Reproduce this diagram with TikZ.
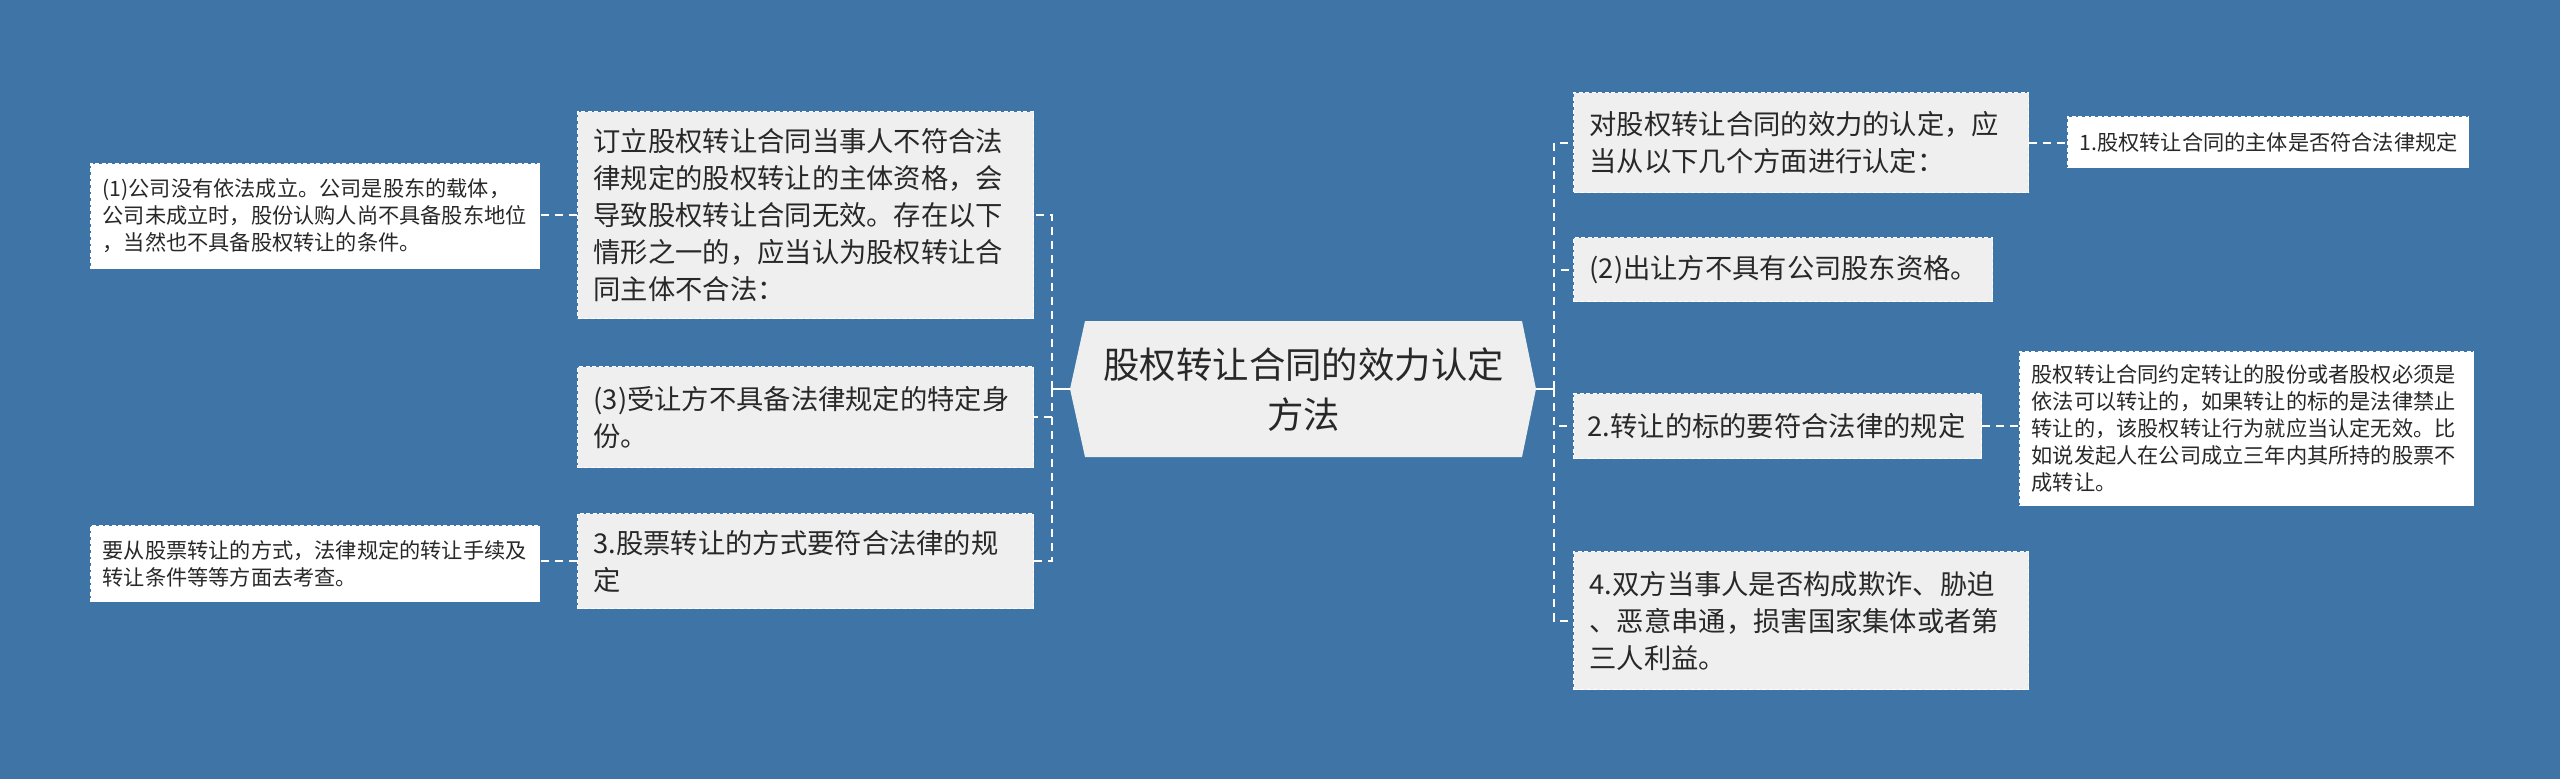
\documentclass[tikz,border=0pt]{standalone}
\usepackage{fontspec}
\setmainfont{Noto Sans CJK SC}
\usetikzlibrary{calc}
\definecolor{bg}{RGB}{62,116,166}
\definecolor{boxgray}{RGB}{239,239,239}
\definecolor{txt}{RGB}{40,40,40}
\tikzset{
  mainbox/.style={anchor=north west, fill=boxgray, draw=white, line width=1.3pt,
    dash pattern=on 4pt off 2.5pt, inner xsep=16pt, inner ysep=0pt, align=left,
    text=txt, font=\fontsize{27.3}{37}\selectfont},
  leafbox/.style={anchor=north west, fill=white, draw=white, line width=1.3pt,
    dash pattern=on 4pt off 2.5pt, inner xsep=12pt, inner ysep=0pt, align=left,
    text=txt, font=\fontsize{21.2}{27}\selectfont},
  dconn/.style={draw=white, line width=2pt, dash pattern=on 8pt off 6pt},
  sconn/.style={draw=white, line width=2pt},
}
\begin{document}
\begin{tikzpicture}[x=1pt,y=-1pt]
\useasboundingbox (0,0) rectangle (2560,779);
\fill[bg] (0,0) rectangle (2560,779);

% centre
\coordinate (CW) at (1070,389);
\coordinate (CE) at (1536,389);
\fill[boxgray] (1085,321) -- (1522,321) -- (CE) -- (1522,457) -- (1085,457) -- (CW) -- cycle;
\node[anchor=north west, minimum width=437pt, minimum height=136pt, text width=437pt,
  align=center, inner sep=0pt, text=txt, font=\fontsize{36.4}{50}\selectfont]
  (C) at (1085,321) {股权转让合同的效力认定\\方法};

% left branch
\node[mainbox, minimum width=456pt, minimum height=207pt, text width=424pt] (L1) at (577,111)
  {订立股权转让合同当事人不符合法\\律规定的股权转让的主体资格，会\\导致股权转让合同无效。存在以下\\情形之一的，应当认为股权转让合\\同主体不合法：};
\node[mainbox, minimum width=456pt, minimum height=101pt, text width=424pt] (L2) at (577,366)
  {(3)受让方不具备法律规定的特定身\\份。};
\node[mainbox, minimum width=456pt, minimum height=95pt, text width=424pt] (L3) at (577,513)
  {3.股票转让的方式要符合法律的规\\定};
\node[leafbox, minimum width=449pt, minimum height=105pt, text width=425pt] (LL1) at (90,163)
  {(1)公司没有依法成立。公司是股东的载体，\\公司未成立时，股份认购人尚不具备股东地位\\，当然也不具备股权转让的条件。};
\node[leafbox, minimum width=449pt, minimum height=76pt, text width=425pt] (LL2) at (90,525)
  {要从股票转让的方式，法律规定的转让手续及\\转让条件等等方面去考查。};

% right branch
\node[mainbox, minimum width=455pt, minimum height=100pt, text width=423pt] (R1) at (1573,92)
  {对股权转让合同的效力的认定，应\\当从以下几个方面进行认定：};
\node[leafbox, minimum width=401pt, minimum height=51pt, text width=377pt] (RR1) at (2067,116)
  {1.股权转让合同的主体是否符合法律规定};
\node[mainbox, minimum width=419pt, minimum height=64pt, text width=387pt] (R2) at (1573,237)
  {(2)出让方不具有公司股东资格。};
\node[mainbox, minimum width=408pt, minimum height=65pt, text width=380pt, inner xsep=14pt] (R3) at (1573,393)
  {2.转让的标的要符合法律的规定};
\node[leafbox, minimum width=454pt, minimum height=154pt, text width=430pt] (RR3) at (2019,351)
  {股权转让合同约定转让的股份或者股权必须是\\依法可以转让的，如果转让的标的是法律禁止\\转让的，该股权转让行为就应当认定无效。比\\如说发起人在公司成立三年内其所持的股票不\\成转让。};
\node[mainbox, minimum width=455pt, minimum height=138pt, text width=423pt] (R4) at (1573,551)
  {4.双方当事人是否构成欺诈、胁迫\\、恶意串通，损害国家集体或者第\\三人利益。};

% connectors
\coordinate (LS) at (1052,389);
\coordinate (RS) at (1554,389);
\draw[sconn] (CW) -- (LS);
\draw[dconn] (LS) |- (L1.east);
\draw[dconn] (LS) |- (L2.east);
\draw[dconn] (LS) |- (L3.east);
\draw[sconn] (CE) -- (RS);
\draw[dconn] (RS) |- (R1.west);
\draw[dconn] (RS) |- (R2.west);
\draw[dconn] (RS) |- (R3.west);
\draw[dconn] (RS) |- (R4.west);
\draw[dconn] (L1.west) -- (LL1.east |- L1.west);
\draw[dconn] (L3.west) -- (LL2.east |- L3.west);
\draw[dconn] (R1.east) -- (RR1.west |- R1.east);
\draw[dconn] (R3.east) -- (RR3.west |- R3.east);
\end{tikzpicture}
\end{document}
